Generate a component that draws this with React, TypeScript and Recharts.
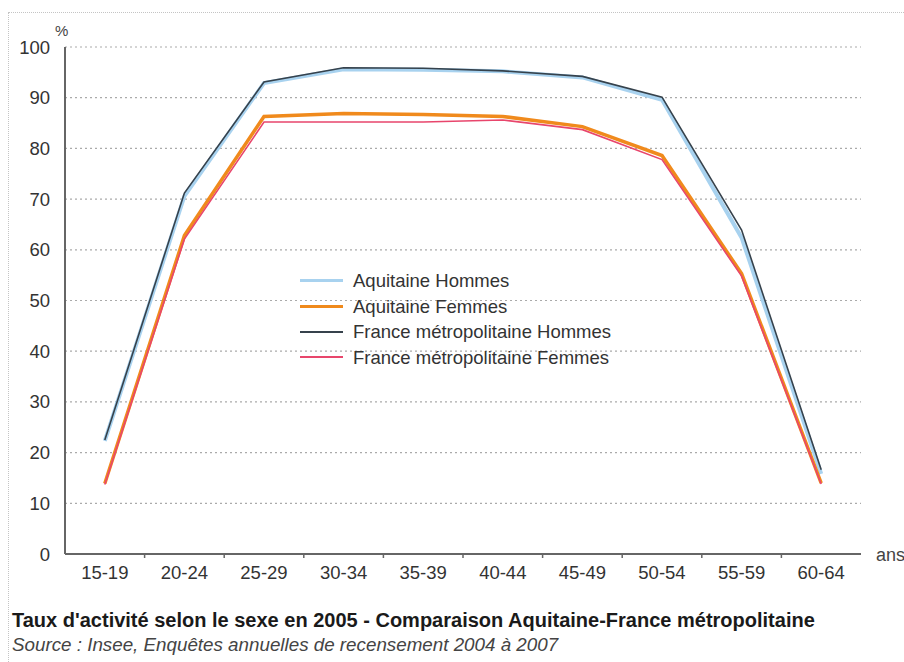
import React from "react"
import { LineChart, Line, XAxis, YAxis, CartesianGrid, Legend } from "recharts"

const ageGroups = ["15-19", "20-24", "25-29", "30-34", "35-39", "40-44", "45-49", "50-54", "55-59", "60-64"]

const aquitaineHommes = [22.3, 70.6, 92.9, 95.6, 95.5, 95.2, 94.0, 89.6, 62.4, 15.8]
const aquitaineFemmes = [13.9, 62.8, 86.3, 86.9, 86.7, 86.3, 84.3, 78.6, 55.3, 14.0]
const franceHommes = [22.5, 71.2, 93.1, 95.9, 95.8, 95.3, 94.2, 90.1, 63.9, 16.6]
const franceFemmes = [13.7, 62.1, 85.2, 85.2, 85.2, 85.6, 83.7, 77.8, 54.8, 13.8]

const yTicks = [0, 10, 20, 30, 40, 50, 60, 70, 80, 90, 100]

const series = [
  { key: "aqH", name: "Aquitaine Hommes", color: "#a8d2ef", width: 4, legendH: 3 },
  { key: "aqF", name: "Aquitaine Femmes", color: "#f08a1c", width: 3.5, legendH: 3 },
  { key: "frH", name: "France métropolitaine Hommes", color: "#36424c", width: 1.6, legendH: 2 },
  { key: "frF", name: "France métropolitaine Femmes", color: "#e8466c", width: 1.6, legendH: 2 },
]

const data = ageGroups.map((age, i) => ({
  age,
  aqH: aquitaineHommes[i],
  aqF: aquitaineFemmes[i],
  frH: franceHommes[i],
  frF: franceFemmes[i],
}))

const font = "'Liberation Sans', Arial, Helvetica, sans-serif"

const W = 904
const H = 662
const plotLeft = 65
const plotRight = 861
const band = (plotRight - plotLeft) / ageGroups.length

function AgeTick(props: any) {
  const { x, y, payload, index } = props
  return (
    <g>
      {index < ageGroups.length - 1 && (
        <line x1={x + band / 2} x2={x + band / 2} y1={y - 9} y2={y - 4} stroke="#666" strokeWidth={1.5} />
      )}
      <text x={x} y={y + 17} textAnchor="middle" fill="#333" fontSize={18.5} fontFamily={font}>
        {payload.value}
      </text>
    </g>
  )
}

function LegendBox() {
  return (
    <div style={{ fontFamily: font, fontSize: 18.5, color: "#333", lineHeight: "25.5px" }}>
      {series.map((s) => (
        <div key={s.key} style={{ display: "flex", alignItems: "center" }}>
          <span
            style={{
              display: "inline-block",
              width: 43,
              height: s.legendH,
              background: s.color,
              marginRight: 10,
            }}
          />
          <span>{s.name}</span>
        </div>
      ))}
    </div>
  )
}

export default function App() {
  return (
    <div style={{ position: "relative", width: W, height: H, background: "#fff", fontFamily: font }}>
      <style>{`body{margin:0}`}</style>
      <div
        style={{
          position: "absolute",
          left: 8,
          top: 12,
          right: 0,
          bottom: 0,
          borderTop: "1.5px dotted #c4c4c4",
          borderLeft: "1.5px dotted #c4c4c4",
        }}
      />
      <LineChart width={W} height={H} data={data} margin={{ top: 47, right: W - plotRight, left: 0, bottom: 78 }}>
        <CartesianGrid vertical={false} stroke="#aaa" strokeDasharray="2 3" strokeWidth={1.2} />
        <XAxis
          dataKey="age"
          axisLine={{ stroke: "#666", strokeWidth: 2 }}
          tickLine={false}
          tick={<AgeTick />}
          height={30}
          interval={0}
          padding={{ left: band / 2, right: band / 2 }}
        />
        <XAxis xAxisId="top" orientation="top" dataKey="age" tick={false} tickLine={false} height={0} axisLine={{ stroke: "#666", strokeWidth: 2 }} />
        <YAxis
          domain={[0, 100]}
          ticks={yTicks}
          interval={0}
          width={plotLeft}
          axisLine={{ stroke: "#666", strokeWidth: 2 }}
          tickLine={false}
          tickSize={0}
          tickMargin={15}
          tick={{ fill: "#333", fontSize: 18.5, fontFamily: font }}
        />
        <YAxis yAxisId="right" orientation="right" domain={[0, 100]} tick={false} tickLine={false} width={0} axisLine={{ stroke: "#666", strokeWidth: 2 }} />
        <Legend
          layout="vertical"
          verticalAlign="middle"
          align="center"
          content={<LegendBox />}
          wrapperStyle={{ position: "absolute", left: 300, top: 268, width: 360 }}
        />
        <Line type="linear" dataKey="aqH" name={series[0].name} stroke={series[0].color} strokeWidth={series[0].width} dot={false} isAnimationActive={false} />
        <Line type="linear" dataKey="aqF" name={series[1].name} stroke={series[1].color} strokeWidth={series[1].width} dot={false} isAnimationActive={false} />
        <Line type="linear" dataKey="frH" name={series[2].name} stroke={series[2].color} strokeWidth={series[2].width} dot={false} isAnimationActive={false} />
        <Line type="linear" dataKey="frF" name={series[3].name} stroke={series[3].color} strokeWidth={series[3].width} dot={false} isAnimationActive={false} />
      </LineChart>
      <div style={{ position: "absolute", left: 55, top: 22, fontSize: 15, color: "#444" }}>%</div>
      <div style={{ position: "absolute", left: 876, top: 545, fontSize: 18, color: "#444" }}>ans</div>
      <div style={{ position: "absolute", left: 12, top: 609, fontSize: 20, fontWeight: "bold", color: "#1a1a1a", whiteSpace: "nowrap" }}>
        Taux d'activité selon le sexe en 2005 - Comparaison Aquitaine-France métropolitaine
      </div>
      <div style={{ position: "absolute", left: 12, top: 634, fontSize: 18.8, fontStyle: "italic", color: "#444", whiteSpace: "nowrap" }}>
        Source : Insee, Enquêtes annuelles de recensement 2004 à 2007
      </div>
    </div>
  )
}
